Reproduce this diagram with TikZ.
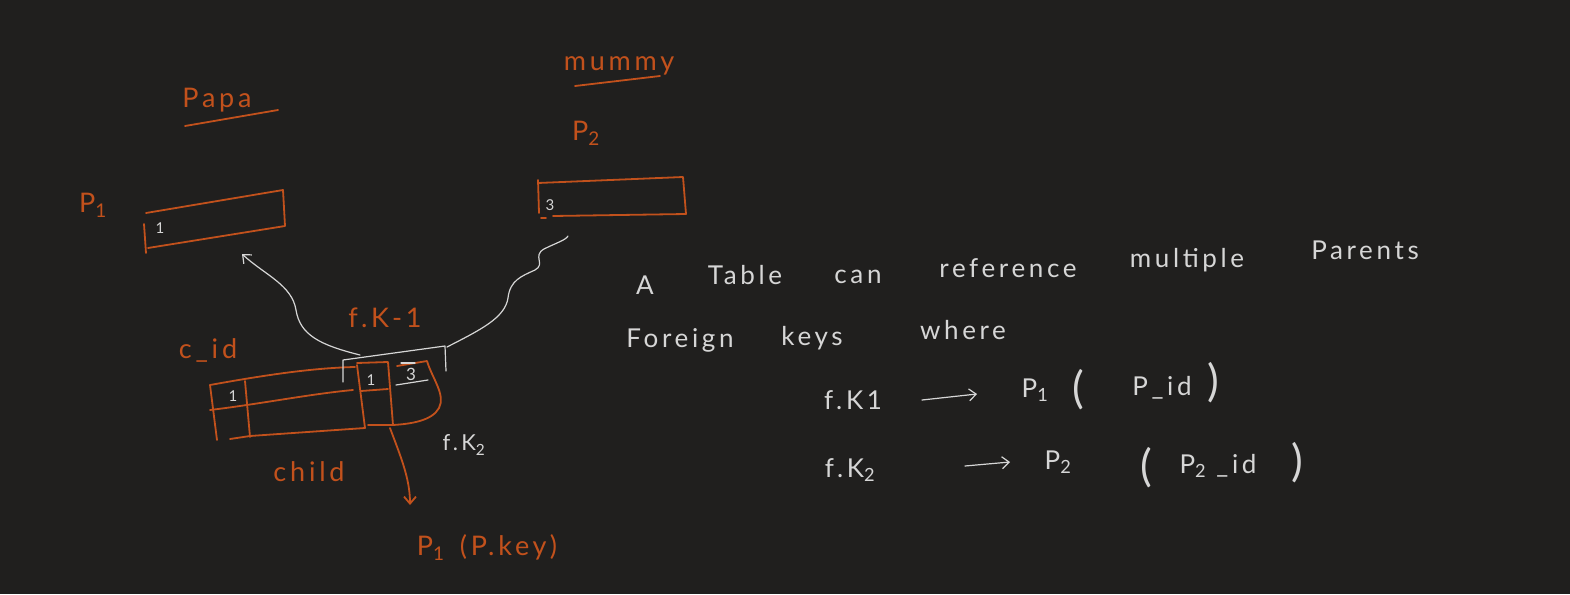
\documentclass[tikz,border=0pt]{standalone}
\usepackage{fontspec}
\setmainfont{Lato}
\newfontfamily\handfont[LetterSpace=14]{Lato}
\usetikzlibrary{arrows.meta}
\definecolor{bg}{HTML}{201F1E}
\definecolor{ink}{HTML}{C2511C}
\definecolor{chalk}{HTML}{D6D6D6}
\tikzset{
  ostroke/.style={draw=ink, line width=1.8pt, line cap=round, line join=round},
  wstroke/.style={draw=chalk, line width=1.2pt, line cap=round, line join=round},
  olabel/.style={text=ink, font=\handfont\fontsize{27}{29}\selectfont, inner sep=0pt},
  wlabel/.style={text=chalk, font=\handfont\fontsize{26}{28}\selectfont, inner sep=0pt},
  wsmall/.style={text=chalk, font=\fontsize{15}{16}\selectfont, inner sep=0pt},
  wparen/.style={text=chalk, font=\fontsize{44}{46}\selectfont, inner sep=0pt},
  barb/.style={-{Straight Barb[length=7pt,width=12pt]}},
}
\begin{document}
\begin{tikzpicture}[x=1pt,y=-1pt]
\fill[bg] (0,0) rectangle (1570,594);
\useasboundingbox (0,0) rectangle (1570,594);

% ---------- titles ----------
\node[olabel] (papa) at (217,100) {Papa};
\draw[ostroke] (185,126) -- (278,110);
\node[olabel] (mummy) at (619,66) {mummy};
\draw[ostroke] (575,86) -- (660,76);
\node[olabel] (p2lbl) at (586,133) {P\textsubscript{2}};
\node[olabel] (p1lbl) at (93,205) {P\textsubscript{1}};

% ---------- P1 table ----------
\draw[ostroke] (146,213) -- (283,190) -- (285,226) -- (148,248);
\draw[ostroke] (144,224) -- (146,253);
\node[wsmall] (p1one) at (160,228) {1};
\coordinate (p1tip) at (242,254);

% ---------- P2 table ----------
\draw[ostroke] (538,183) -- (683,177) -- (686,214) -- (553,216);
\draw[ostroke] (538,180) -- (539,213);
\draw[ostroke] (546,218) -- (541,218);
\node[wsmall] (p2three) at (550,205) {3};
\coordinate (p2tail) at (568,236);

% ---------- child table ----------
\draw[ostroke] (210,385) .. controls (260,376) and (310,368) .. (355,367);
\draw[ostroke] (210,385) -- (217,440);
\draw[ostroke] (230,439) -- (250,436) -- (365,428);
\draw[ostroke] (245,381) -- (250,437);
\draw[ostroke] (210,410) .. controls (260,404) and (310,394) .. (353,390);
% fk1 column
\draw[ostroke] (357,363) -- (388,362) -- (393,425) -- (368,425);
\draw[ostroke] (357,365) -- (365,428);
\draw[ostroke] (361,391) -- (388,389);
\node[wsmall] (fk1one) at (371,380) {1};
% fk2 column
\draw[ostroke] (397,366) -- (427,361) .. controls (432,378) and (446,395) .. (439,408)
  .. controls (432,421) and (410,424) .. (393,425);
\node[wsmall, font=\fontsize{17}{18}\selectfont] (fk2three) at (411,374) {3};
\draw[wstroke] (396,385) -- (428,380);
\draw[wstroke] (401,363) -- (415,363);
\node[wsmall] (cidone) at (233,396) {1};

% bracket over the foreign key columns
\draw[wstroke] (343,382) -- (343,360) -- (445,346) -- (446,371);
\coordinate (brL) at (360,355);
\coordinate (brR) at (447,347);
\coordinate (fkbot) at (390,428);
\coordinate (pktip) at (410,505);

% labels around child
\node[olabel] (cid) at (208,350) {c\_id};
\node[olabel] (fk1) at (385,318) {f.K-1};
\node[olabel] (child) at (309,472) {child};
\node[wlabel, font=\handfont\fontsize{22}{24}\selectfont] (fk2) at (464,445) {f.K\textsubscript{2}};
\node[olabel] (pkey) at (487,548) {P\textsubscript{1}\, (P.key)};

% ---------- connectors ----------
\draw[wstroke, barb] (brL) .. controls (320,345) and (300,335) .. (296,310)
  .. controls (292,285) and (265,275) .. (p1tip);
\draw[wstroke] (brR) .. controls (480,330) and (505,318) .. (508,298)
  .. controls (510,280) and (522,276) .. (535,270)
  .. controls (546,264) and (532,256) .. (544,249)
  .. controls (556,243) and (566,240) .. (p2tail);
\draw[ostroke, barb] (fkbot) .. controls (400,455) and (410,478) .. (pktip);

% ---------- explanation text ----------
\node[wlabel] (wA) at (645,285) {A};
\node[wlabel] (wTable) at (745,275) {Table};
\node[wlabel] (wcan) at (858,277) {can};
\node[wlabel] (wref) at (1008,268) {reference};
\node[wlabel] (wmul) at (1187,260) {multiple};
\node[wlabel] (wpar) at (1365,250) {Parents};

\node[wlabel] (wfor) at (680,340) {Foreign};
\node[wlabel] (wkeys) at (812,338) {keys};
\node[wlabel] (wwhere) at (963,330) {where};

\node[wlabel] (l3a) at (853,400) {f.K1};
\node[wlabel] (l3b) at (1035,390) {P\textsubscript{1}};
\node[wparen] (l3c) at (1078,390) {(};
\node[wlabel] (l3d) at (1162,388) {P\_id};
\node[wparen] (l3e) at (1213,383) {)};
\coordinate (a3s) at (922,400);
\coordinate (a3e) at (977,394);
\draw[wstroke, barb] (a3s) -- (a3e);

\node[wlabel] (l4a) at (850,470) {f.K\textsubscript{2}};
\node[wlabel] (l4b) at (1058,462) {P\textsubscript{2}};
\node[wparen] (l4c) at (1146,468) {(};
\node[wlabel] (l4d) at (1218,466) {P\textsubscript{2} \_id};
\node[wparen] (l4e) at (1297,463) {)};
\coordinate (a4s) at (965,466);
\coordinate (a4e) at (1010,462);
\draw[wstroke, barb] (a4s) -- (a4e);
\end{tikzpicture}
\end{document}
